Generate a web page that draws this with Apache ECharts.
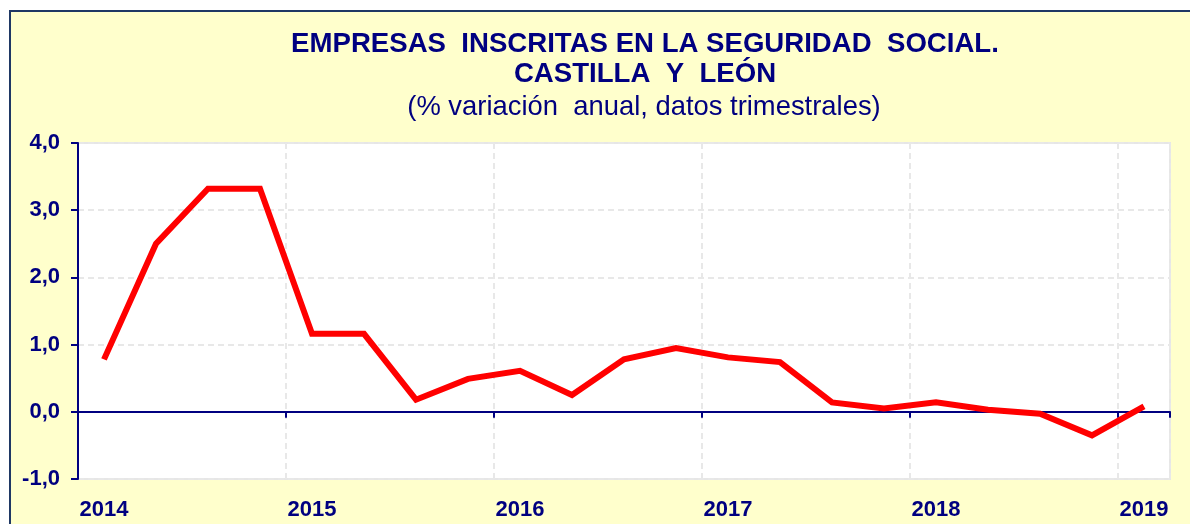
<!DOCTYPE html>
<html>
<head>
<meta charset="utf-8">
<script src="https://cdn.jsdelivr.net/npm/echarts@6/dist/echarts.min.js"></script>
<style>
    html, body { margin: 0; padding: 0; background: #ffffff; overflow: hidden; }
    #frame {
        position: absolute; left: 9px; top: 10px; width: 1200px; height: 540px;
        background: #FFFFCC; border: 2px solid #1F3864; box-sizing: border-box;
    }
    #chart { position: absolute; left: 0; top: 0; width: 1190px; height: 524px; }
</style>
</head>
<body>
<div id="frame"></div>
<div id="chart"></div>
<script>
    // trimestres, del I-2014 al I-2019
    var quarters = [
        '2014-T1', '2014-T2', '2014-T3', '2014-T4',
        '2015-T1', '2015-T2', '2015-T3', '2015-T4',
        '2016-T1', '2016-T2', '2016-T3', '2016-T4',
        '2017-T1', '2017-T2', '2017-T3', '2017-T4',
        '2018-T1', '2018-T2', '2018-T3', '2018-T4',
        '2019-T1'
    ];
    // % variacion anual
    var variation = [
        0.78, 2.50, 3.32, 3.32,
        1.16, 1.16, 0.18, 0.49,
        0.61, 0.25, 0.78, 0.95,
        0.81, 0.74, 0.14, 0.05,
        0.14, 0.03, -0.03, -0.35,
        0.08
    ];
    var yTicks = [-1, 0, 1, 2, 3, 4];

    var navy = '#000080';
    var gridGray = '#e8e8e8';

    function isYearStart(index) {
        return index % 4 === 0;
    }

    var chart = echarts.init(document.getElementById('chart'), null, {renderer: 'canvas'});
    var option = {
        backgroundColor: 'transparent',
        animation: false,
        graphic: [
            {
                type: 'text', x: 645, y: 44,
                style: {
                    text: 'EMPRESAS  INSCRITAS EN LA SEGURIDAD  SOCIAL.',
                    font: 'bold 27.6px "Liberation Sans", Arial, sans-serif',
                    fill: navy, textAlign: 'center', textVerticalAlign: 'middle'
                }
            },
            {
                type: 'text', x: 645, y: 74,
                style: {
                    text: 'CASTILLA  Y  LEÓN',
                    font: 'bold 27.6px "Liberation Sans", Arial, sans-serif',
                    fill: navy, textAlign: 'center', textVerticalAlign: 'middle'
                }
            },
            {
                type: 'text', x: 644, y: 107,
                style: {
                    text: '(% variación  anual, datos trimestrales)',
                    font: '27.4px "Liberation Sans", Arial, sans-serif',
                    fill: navy, textAlign: 'center', textVerticalAlign: 'middle'
                }
            }
        ],
        grid: {
            left: 78, top: 143, right: 20, bottom: 45,
            containLabel: false,
            outerBoundsMode: 'none',
            show: true,
            backgroundColor: '#ffffff',
            borderColor: '#e6e6e6',
            borderWidth: 2
        },
        xAxis: {
            type: 'category',
            data: quarters,
            boundaryGap: true,
            axisLine: {onZero: true, lineStyle: {color: navy, width: 2}},
            axisTick: {
                show: true, inside: false, length: 6,
                interval: isYearStart,
                lineStyle: {color: navy, width: 2}
            },
            axisLabel: {
                interval: isYearStart,
                formatter: function (v) { return v.slice(0, 4); },
                color: navy,
                fontFamily: '"Liberation Sans", Arial, sans-serif',
                fontWeight: 'bold',
                fontSize: 22,
                margin: 20
            },
            splitLine: {
                show: true,
                interval: isYearStart,
                lineStyle: {color: gridGray, width: 2, type: [6, 4]}
            }
        },
        yAxis: {
            type: 'value',
            min: yTicks[0],
            max: yTicks[yTicks.length - 1],
            interval: 1,
            axisLine: {show: true, lineStyle: {color: navy, width: 2}},
            axisTick: {show: true, length: 7, lineStyle: {color: navy, width: 2}},
            axisLabel: {
                color: navy,
                fontFamily: '"Liberation Sans", Arial, sans-serif',
                fontWeight: 'bold',
                fontSize: 22,
                margin: 18,
                formatter: function (v) { return v.toFixed(1).replace('.', ','); }
            },
            splitLine: {lineStyle: {color: gridGray, width: 2, type: [6, 4]}}
        },
        series: [{
            type: 'line',
            data: variation,
            showSymbol: false,
            symbol: 'none',
            lineStyle: {color: '#ff0000', width: 6, join: 'miter'},
            z: 5
        }]
    };
    chart.setOption(option);
</script>
</body>
</html>
